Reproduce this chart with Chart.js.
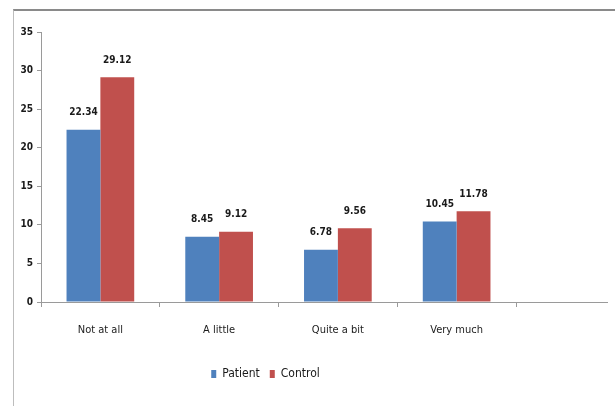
<!DOCTYPE html>
<html>
<head>
<meta charset="utf-8">
<script src="https://cdn.jsdelivr.net/npm/chart.js@4"></script>
<style>
  html, body { margin: 0; padding: 0; background: #fff; }
  #frame {
    position: absolute; left: 13px; top: 9px; width: 602px; height: 397px;
    border-top: 2px solid #8a8a8a; border-left: 1px solid #bdbdbd;
    box-sizing: border-box;
  }
  #wrap { position: absolute; left: 1px; top: 1px; width: 600px; height: 394px; }
</style>
</head>
<body>
<div id="frame"><div id="wrap"><canvas id="chart"></canvas></div></div>
<script>
'use strict'

// categories and series
const categories = ['Not at all', 'A little', 'Quite a bit', 'Very much']
const patientValues = [22.34, 8.45, 6.78, 10.45]
const controlValues = [29.12, 9.12, 9.56, 11.78]
const yTicks = [0, 5, 10, 15, 20, 25, 30, 35]

const labelFont = "'Liberation Sans Narrow', 'Arial Narrow', 'DejaVu Sans Condensed', sans-serif"

// writes each value above its bar
const valueLabels = {
  id: 'valueLabels',
  afterDatasetsDraw (chart) {
    const ctx = chart.ctx
    ctx.save()
    ctx.font = 'bold 10px ' + labelFont
    ctx.fillStyle = '#1a1a1a'
    ctx.textAlign = 'center'
    ctx.textBaseline = 'middle'
    chart.data.datasets.forEach((ds, i) => {
      chart.getDatasetMeta(i).data.forEach((bar, j) => {
        ctx.fillText(ds.data[j].toFixed(2), bar.x, bar.y - 17)
      })
    })
    ctx.restore()
  }
}

// carries the x axis line on to the right edge, like the original
const axisTail = {
  id: 'axisTail',
  afterDraw (chart) {
    const ctx = chart.ctx
    const y = chart.scales.y.getPixelForValue(0)
    ctx.save()
    ctx.strokeStyle = '#9a9a9a'
    ctx.lineWidth = 1
    ctx.beginPath()
    ctx.moveTo(chart.chartArea.right, y + 0.5)
    ctx.lineTo(chart.width - 7, y + 0.5)
    ctx.stroke()
    ctx.restore()
  }
}

const ctx = document.getElementById('chart')

const chart = new Chart(ctx, {
  type: 'bar',
  data: {
    labels: categories,
    datasets: [{
      label: 'Patient',
      data: patientValues,
      backgroundColor: '#4f81bd'
    },
    {
      label: 'Control',
      data: controlValues,
      backgroundColor: '#c0504d'
    }]
  },
  options: {
    responsive: true,
    maintainAspectRatio: false,
    animation: false,
    layout: { padding: { top: 20, right: 99, bottom: 16, left: 0 } },
    datasets: {
      bar: { barPercentage: 1, categoryPercentage: 0.57 }
    },
    plugins: {
      legend: {
        position: 'bottom',
        labels: {
          boxWidth: 5,
          boxHeight: 8,
          padding: 10,
          color: '#1a1a1a',
          font: { family: labelFont, size: 12 }
        }
      },
      tooltip: { enabled: false }
    },
    scales: {
      x: {
        grid: { drawOnChartArea: false, color: '#9a9a9a', tickLength: 5 },
        border: { color: '#9a9a9a' },
        ticks: { padding: 17, color: '#1a1a1a', font: { family: labelFont, size: 11 } },
        afterFit: scale => { scale.height = 56 }
      },
      y: {
        min: 0,
        max: 35,
        afterBuildTicks: scale => { scale.ticks = yTicks.map(v => ({ value: v })) },
        grid: { drawOnChartArea: false, color: '#9a9a9a', tickLength: 4 },
        border: { color: '#9a9a9a' },
        ticks: { padding: 4, color: '#1a1a1a', font: { family: labelFont, size: 10, weight: 'bold' } },
        afterFit: scale => { scale.width = 26 }
      }
    }
  },
  plugins: [valueLabels, axisTail]
})
</script>
</body>
</html>
